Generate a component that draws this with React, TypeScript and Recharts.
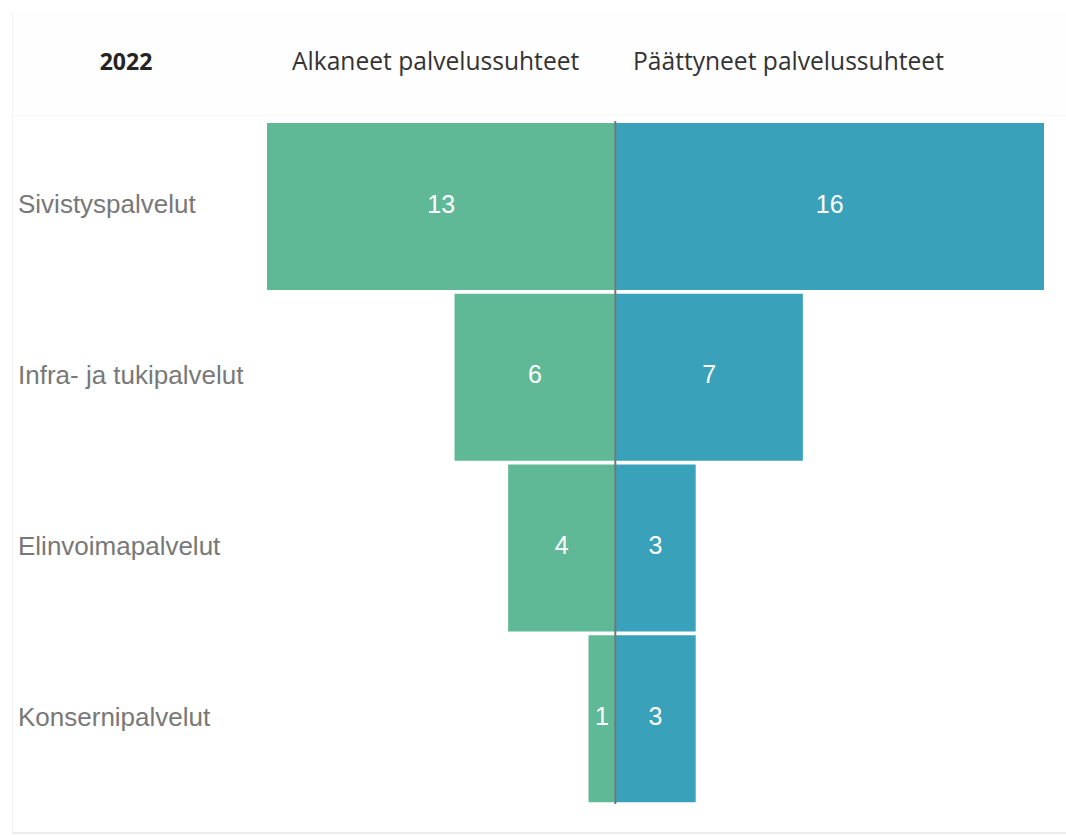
import React from "react";
import { BarChart, Bar, XAxis, YAxis, LabelList, ReferenceLine } from "recharts";

const categories = ["Sivistyspalvelut", "Infra- ja tukipalvelut", "Elinvoimapalvelut", "Konsernipalvelut"];
const started = [13, 6, 4, 1];
const ended = [16, 7, 3, 3];
const yearLabel = "2022";
const startedLabel = "Alkaneet palvelussuhteet";
const endedLabel = "Päättyneet palvelussuhteet";

const data = categories.map((name, i) => ({
  name,
  started: -started[i],
  ended: ended[i],
}));

const FONT = "'Open Sans', 'Noto Sans', 'DejaVu Sans', sans-serif";
const LABEL_FONT = "'Liberation Sans', Arial, sans-serif";

const CategoryTick = (props: any) => {
  const { y, payload } = props;
  return (
    <text x={18} y={y} dy={7} textAnchor="start" fill="#787878" fontSize={26} fontFamily={LABEL_FONT}>
      {payload.value}
    </text>
  );
};

const ValueLabel = (props: any) => {
  const { x, y, width, height, value } = props;
  const cx = x + width / 2;
  const cy = y + height / 2;
  return (
    <text x={cx} y={cy} dy={6} textAnchor="middle" fill="#ffffff" fontSize={25} fontFamily={LABEL_FONT}>
      {Math.abs(Number(value))}
    </text>
  );
};

export default function App() {
  return (
    <div style={{ position: "absolute", left: 0, top: 0, width: 1066, height: 835, background: "#ffffff" }}>
      <div style={{ position: "absolute", left: 12, top: 12, width: 1054, height: 103, background: "#fefefe", borderLeft: "1px solid #f3f3f3", borderBottom: "1px solid #f6f6f6" }} />
      <div style={{ position: "absolute", left: 12, top: 115, width: 1054, height: 717, borderLeft: "1px solid #f3f3f3", borderBottom: "2px solid #ebebeb" }} />
      <div style={{ position: "absolute", left: 66, top: 45, width: 120, textAlign: "center", fontFamily: FONT, fontWeight: 700, fontSize: 23, color: "#252423" }}>
        {yearLabel}
      </div>
      <div style={{ position: "absolute", left: 292, top: 44, whiteSpace: "nowrap", fontFamily: FONT, fontSize: 24.6, color: "#333333" }}>
        {startedLabel}
      </div>
      <div style={{ position: "absolute", left: 633, top: 44, whiteSpace: "nowrap", fontFamily: FONT, fontSize: 24.6, color: "#333333" }}>
        {endedLabel}
      </div>
      <div style={{ position: "absolute", left: 0, top: 0 }}>
        <BarChart
          width={1066}
          height={835}
          data={data}
          layout="vertical"
          stackOffset="sign"
          barCategoryGap={2}
          margin={{ top: 121, bottom: 31, left: 18, right: 22 }}
        >
          <XAxis type="number" domain={[-13, 16]} hide allowDataOverflow />
          <YAxis
            type="category"
            dataKey="name"
            width={249}
            axisLine={false}
            tickLine={false}
            tick={<CategoryTick />}
          />
          <Bar dataKey="started" stackId="a" fill="#5FB996" isAnimationActive={false}>
            <LabelList dataKey="started" content={<ValueLabel />} />
          </Bar>
          <Bar dataKey="ended" stackId="a" fill="#3AA1BB" isAnimationActive={false}>
            <LabelList dataKey="ended" content={<ValueLabel />} />
          </Bar>
          <ReferenceLine x={0} stroke="#6f7b7b" strokeWidth={2} />
        </BarChart>
      </div>
    </div>
  );
}
